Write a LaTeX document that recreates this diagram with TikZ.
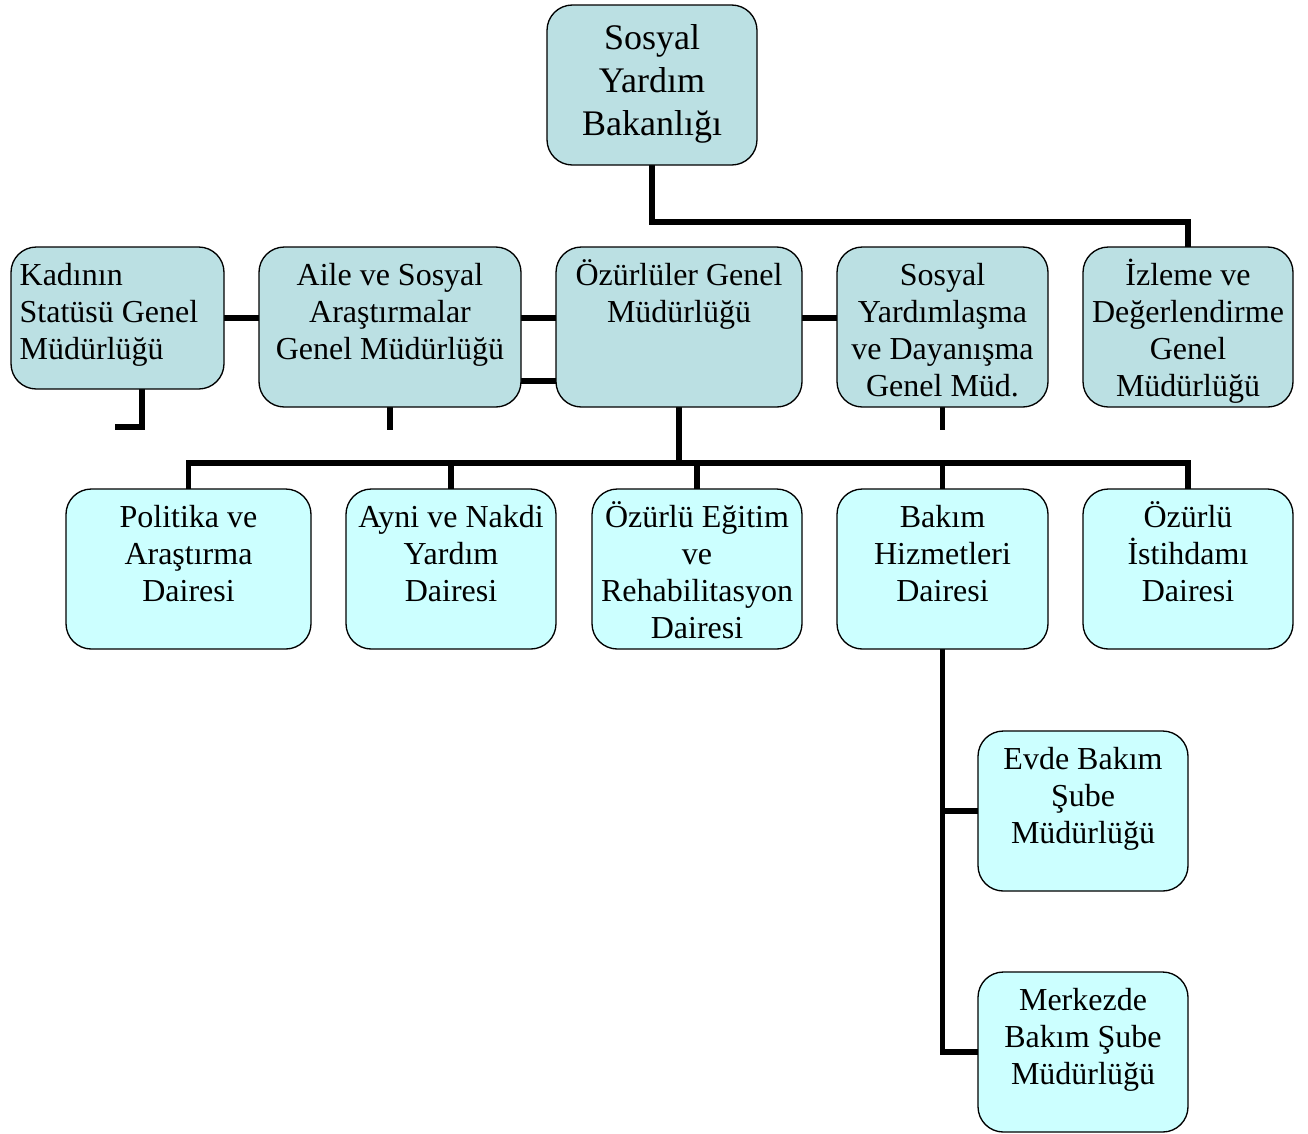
\documentclass[tikz,border=0pt]{standalone}
\usepackage{fontspec}
\setmainfont{Liberation Serif}
\usetikzlibrary{backgrounds}
\definecolor{topfill}{RGB}{187,224,227}
\definecolor{lowfill}{RGB}{204,255,255}
% #1 style, #2 name, #3 x1, #4 y1, #5 x2, #6 y2, #7 content
\newcommand{\orgbox}[7]{%
  \node[#1] (#2) at ({(#3+#5)/2},{(#4+#6)/2})
    {\parbox[c][\dimexpr(#6pt-#4pt)*3/4\relax][t]{\dimexpr(#5pt-#3pt)*3/4\relax}{#7}};}
\newcommand{\fl}{\rule{0pt}{28.75pt}}
\begin{document}
\begin{tikzpicture}[x=0.75pt,y=-0.75pt,
  orgbase/.style={draw=black,line width=1pt,rounded corners=19pt,inner sep=0pt,
    font=\fontsize{24}{27.75}\selectfont},
  upper/.style={orgbase,fill=topfill},
  lower/.style={orgbase,fill=lowfill},
  conn/.style={line width=3.8pt,line cap=rect,line join=miter,draw=black}]
\useasboundingbox (0,0) rectangle (1308,1133);

% top
\orgbox{upper,font=\fontsize{27}{32.6}\selectfont}{bak}{547}{5}{757}{165}
  {\centering\rule{0pt}{33pt}Sosyal\\Yardım\\Bakanlığı\par}

% second row
\orgbox{upper}{kad}{11}{247}{224}{389}
  {\raggedright\leftskip=6.5pt\fl Kadının\\Statüsü Genel\\Müdürlüğü\par}
\orgbox{upper}{aile}{259}{247}{521}{407}
  {\centering\fl Aile ve Sosyal\\Araştırmalar\\Genel Müdürlüğü\par}
\orgbox{upper}{oz}{556}{247}{802}{407}
  {\centering\fl Özürlüler Genel\\Müdürlüğü\par}
\orgbox{upper}{sos}{837}{247}{1048}{407}
  {\centering\fl Sosyal\\Yardımlaşma\\ve Dayanışma\\Genel Müd.\par}
\orgbox{upper}{izl}{1083}{247}{1293}{407}
  {\centering\fl İzleme ve\\Değerlendirme\\Genel\\Müdürlüğü\par}

% third row
\orgbox{lower}{pol}{66}{489}{311}{649}
  {\centering\fl Politika ve\\Araştırma\\Dairesi\par}
\orgbox{lower}{ayn}{346}{489}{556}{649}
  {\centering\fl Ayni ve Nakdi\\Yardım\\Dairesi\par}
\orgbox{lower}{egt}{592}{489}{802}{649}
  {\centering\fl Özürlü Eğitim\\ve\\Rehabilitasyon\\Dairesi\par}
\orgbox{lower}{bkm}{837}{489}{1048}{649}
  {\centering\fl Bakım\\Hizmetleri\\Dairesi\par}
\orgbox{lower}{ist}{1083}{489}{1293}{649}
  {\centering\fl Özürlü\\İstihdamı\\Dairesi\par}

% branches
\orgbox{lower}{evd}{978}{731}{1188}{891}
  {\centering\fl Evde Bakım\\Şube\\Müdürlüğü\par}
\orgbox{lower}{mer}{978}{972}{1188}{1132}
  {\centering\fl Merkezde\\Bakım Şube\\Müdürlüğü\par}

% helper coordinates
\coordinate (ytop) at (0,222);
\coordinate (yA) at (0,318);
\coordinate (yB) at (0,381);
\coordinate (ybus) at (0,463);
\coordinate (k1) at (142,427);
\coordinate (kadstub) at (118,427);
\coordinate (ailestub) at (390,427);
\coordinate (sosstub) at (942.5,427);

\begin{pgfonlayer}{background}
  \draw[conn] (bak.south) -- (bak.south |- ytop) -| (izl.north);
  \draw[conn] (kad.east |- yA) -- (aile.west |- yA);
  \draw[conn] (aile.east |- yA) -- (oz.west |- yA);
  \draw[conn] (aile.east |- yB) -- (oz.west |- yB);
  \draw[conn] (oz.east |- yA) -- (sos.west |- yA);
  \draw[conn] (k1 |- kad.south) -- (k1) -- (kadstub);
  \draw[conn] (aile.south) -- (ailestub);
  \draw[conn] (sos.south) -- (sosstub);
  \draw[conn] (oz.south) -- (oz.south |- ybus);
  \draw[conn] (pol.north |- ybus) -- (ist.north |- ybus);
  \foreach \n in {pol,ayn,egt,bkm,ist}
    \draw[conn] (\n.north |- ybus) -- (\n.north);
  \draw[conn] (bkm.south) -- (bkm.south |- mer.west) -- (mer.west);
  \draw[conn] (bkm.south |- evd.west) -- (evd.west);
\end{pgfonlayer}
\end{tikzpicture}
\end{document}
